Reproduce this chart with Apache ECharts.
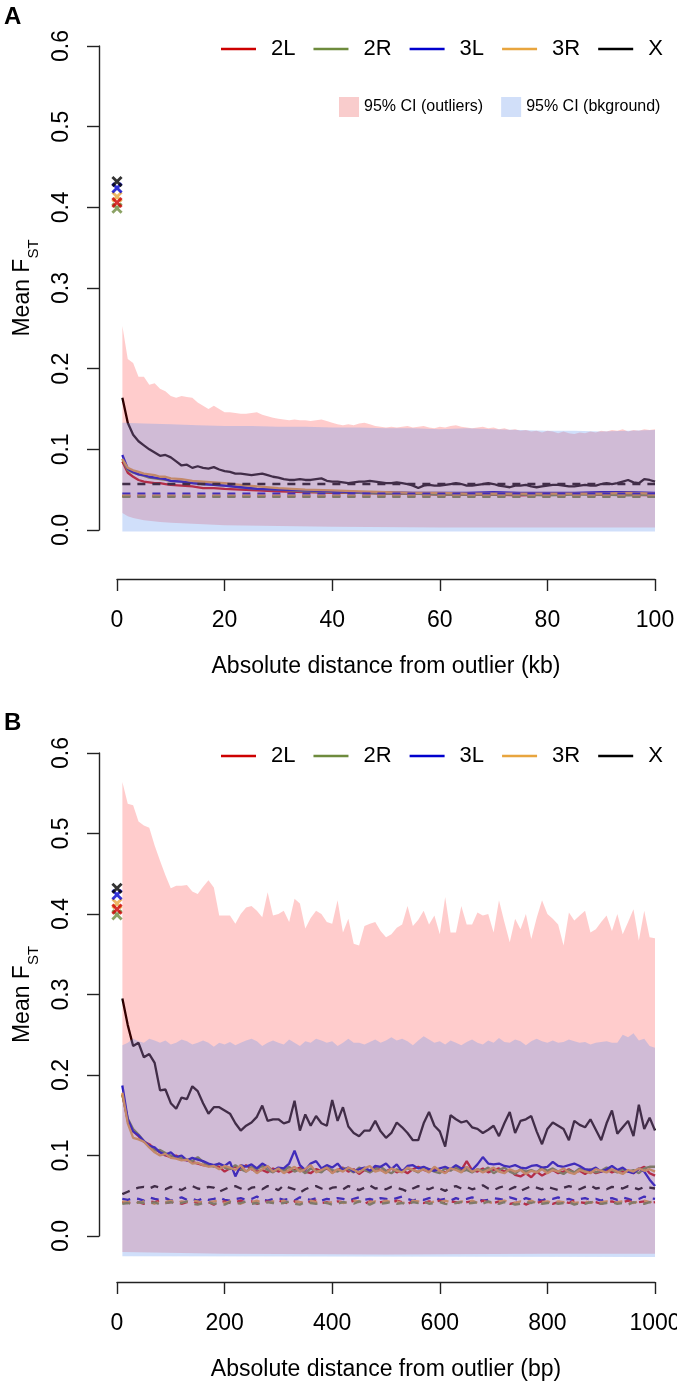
<!DOCTYPE html>
<html><head><meta charset="utf-8">
<script src="https://cdn.jsdelivr.net/npm/echarts/dist/echarts.min.js"></script>
<style>html,body{margin:0;padding:0;background:#fff}#c{width:677px;height:1381px}</style>
</head><body><div id="c"></div>
<script>
// ---------------- DATA ----------------
const chromosomes = ['2L', '2R', '3L', '3R', 'X'];
const colors = {'2L': '#cd0000', '2R': '#6e8b3d', '3L': '#0000cd', '3R': '#e8a53e', 'X': '#000000'};
const xTicksA = [0, 20, 40, 60, 80, 100];
const xTicksB = [0, 200, 400, 600, 800, 1000];
const yTicks = [0, 0.1, 0.2, 0.3, 0.4, 0.5, 0.6];

// outlier-site mean FST (crosses at distance 0)
const outlierFst = {'2L': 0.406, '2R': 0.399, '3L': 0.424, '3R': 0.413, 'X': 0.432};

// ---- Panel A (kb) ----
const kbX = Array.from({length: 100}, (_, i) => i + 1);
const aSampleX = [1,2,3,4,5,6,7,8,9,10,12,14,16,18,20,23,26,30,35,40,45,50,55,60,65,70,75,80,85,90,95,100];
const a2L = [.085,.071,.066,.062,.060,.059,.058,.058,.057,.056,.055,.054,.052,.052,.051,.050,.049,.048,.047,.046,.046,.045,.045,.044,.044,.044,.043,.044,.045,.044,.044,.043];
const a2R = [.088,.074,.071,.069,.067,.065,.064,.063,.062,.061,.060,.058,.057,.056,.055,.053,.051,.050,.048,.047,.046,.045,.045,.044,.044,.044,.044,.043,.044,.044,.043,.044];
const a3L = [.093,.076,.072,.069,.068,.066,.065,.064,.063,.061,.060,.058,.057,.056,.055,.053,.051,.050,.049,.048,.047,.047,.046,.046,.046,.047,.046,.046,.046,.047,.047,.046];
const a3R = [.088,.077,.074,.072,.070,.069,.068,.066,.066,.064,.063,.061,.060,.059,.058,.056,.054,.052,.050,.049,.048,.047,.046,.046,.045,.045,.045,.045,.045,.045,.046,.045];
const aX = [.164,.133,.118,.110,.105,.100,.096,.092,.093,.090,
 .085,.080,.081,.077,.079,.077,.076,.078,.075,.073,
 .072,.070,.070,.069,.068,.069,.070,.068,.066,.065,
 .063,.062,.062,.063,.062,.062,.063,.064,.061,.060,
 .060,.059,.058,.059,.060,.060,.061,.060,.059,.058,
 .058,.059,.058,.057,.055,.052,.055,.056,.055,.055,
 .056,.057,.058,.057,.055,.055,.056,.057,.058,.057,
 .055,.054,.053,.055,.055,.056,.054,.053,.054,.055,
 .056,.056,.055,.054,.054,.055,.056,.055,.055,.057,
 .058,.057,.058,.060,.062,.059,.058,.063,.062,.060];
const aBgX = [1, 100];
const aBg = {'2L': [.042,.042], '2R': [.041,.041], '3L': [.045,.045], '3R': [.0425,.0425], 'X': [.057,.057]};
const aCIoutUpper = [.253,.212,.207,.190,.190,.180,.182,.175,.172,.166,
 .164,.166,.165,.164,.158,.154,.150,.154,.150,.146,
 .146,.145,.144,.144,.145,.146,.143,.141,.139,.138,
 .137,.136,.137,.136,.136,.135,.136,.137,.135,.133,
 .131,.130,.131,.130,.132,.133,.131,.129,.128,.127,
 .128,.127,.128,.129,.127,.128,.129,.127,.126,.128,
 .127,.129,.130,.128,.127,.126,.127,.128,.126,.127,
 .125,.126,.124,.125,.123,.124,.122,.123,.121,.123,
 .122,.120,.122,.120,.119,.121,.120,.122,.121,.123,
 .122,.124,.123,.125,.122,.124,.123,.125,.124,.125];
const aCIoutLowerX = [1,2,3,5,8,10,15,20,30,40,60,100];
const aCIoutLower = [.021,.017,.015,.012,.010,.009,.0075,.006,.005,.004,.003,.003];
const aCIbgUpperX = [1,5,10,15,20,25,30,35,40,45,50,55,60,65,70,75,80,85,90,95,100];
const aCIbgUpper = [.133,.132,.131,.130,.129,.129,.128,.128,.127,.127,.126,.126,.125,.126,.125,.124,.123,.123,.122,.123,.124];
const aCIbgLowerX = [1, 100];
const aCIbgLower = [-.002, -.002];

// ---- Panel B (bp) ----
const bpX = Array.from({length: 100}, (_, i) => (i + 1) * 10);
const b2L = [.176,.143,.130,.124,.117,.114,.108,.104,.100,.098,
 .100,.095,.094,.092,.090,.088,.087,.088,.086,.080,
 .084,.086,.082,.088,.083,.080,.082,.079,.084,.080,
 .083,.079,.082,.085,.080,.078,.083,.081,.084,.079,
 .082,.085,.080,.083,.077,.082,.080,.085,.082,.080,
 .084,.079,.082,.078,.083,.086,.082,.080,.084,.081,
 .079,.083,.085,.082,.093,.082,.080,.084,.079,.082,
 .084,.080,.082,.076,.074,.078,.073,.080,.075,.079,
 .082,.078,.080,.083,.079,.081,.077,.082,.078,.080,
 .083,.079,.082,.080,.081,.078,.083,.086,.078,.075];
const b2R = [.175,.146,.133,.126,.118,.112,.106,.107,.103,.100,
 .098,.097,.095,.093,.098,.092,.088,.086,.090,.085,
 .083,.088,.083,.080,.086,.083,.087,.082,.079,.084,
 .081,.086,.080,.083,.078,.084,.081,.079,.085,.082,
 .080,.084,.083,.079,.085,.082,.079,.083,.086,.081,
 .078,.083,.080,.084,.082,.079,.085,.083,.080,.078,
 .084,.081,.086,.080,.082,.079,.083,.081,.085,.078,
 .082,.085,.080,.077,.083,.080,.082,.079,.085,.081,
 .084,.080,.077,.082,.079,.084,.080,.083,.079,.081,
 .085,.082,.079,.083,.080,.082,.078,.084,.086,.086];
const b3L = [.187,.145,.130,.125,.118,.112,.110,.104,.101,.104,
 .098,.100,.094,.097,.095,.093,.090,.088,.090,.087,
 .092,.074,.088,.086,.089,.084,.090,.086,.081,.085,
 .084,.090,.106,.088,.082,.090,.093,.084,.088,.085,
 .090,.082,.085,.080,.083,.085,.081,.087,.086,.090,
 .083,.089,.080,.087,.088,.084,.086,.083,.081,.084,
 .086,.083,.088,.084,.085,.082,.089,.098,.090,.089,
 .090,.087,.086,.088,.085,.084,.087,.088,.085,.086,
 .092,.087,.086,.088,.090,.087,.083,.082,.085,.080,
 .083,.087,.082,.085,.080,.078,.084,.080,.070,.062];
const b3R = [.178,.140,.122,.120,.117,.110,.104,.100,.102,.097,
 .096,.094,.095,.090,.091,.088,.086,.087,.083,.087,
 .085,.082,.088,.080,.084,.078,.083,.087,.080,.084,
 .078,.082,.086,.080,.083,.088,.079,.082,.085,.078,
 .083,.080,.085,.082,.079,.084,.087,.080,.082,.078,
 .084,.081,.079,.085,.082,.080,.083,.079,.086,.081,
 .078,.084,.082,.079,.086,.080,.083,.079,.082,.085,
 .080,.078,.083,.080,.082,.077,.081,.079,.083,.078,
 .082,.080,.084,.079,.077,.082,.080,.078,.083,.081,
 .079,.083,.080,.077,.082,.080,.084,.081,.083,.080];
const bX = [.295,.262,.236,.240,.222,.226,.215,.181,.182,.165,
 .158,.172,.170,.186,.180,.165,.152,.160,.160,.156,
 .152,.140,.131,.137,.141,.148,.162,.143,.145,.145,
 .140,.142,.168,.131,.151,.137,.149,.140,.137,.169,
 .143,.160,.136,.128,.124,.131,.131,.143,.130,.122,
 .128,.141,.135,.128,.119,.119,.140,.154,.137,.130,
 .111,.150,.145,.141,.143,.135,.133,.128,.132,.137,
 .124,.140,.154,.128,.143,.145,.149,.130,.114,.133,
 .141,.137,.133,.119,.143,.138,.135,.145,.132,.119,
 .140,.156,.127,.135,.143,.124,.163,.133,.147,.131];
const bBgX = [.052,.055,.058,.060,.061,.059,.062,.060,.058,.061,
 .060,.057,.061,.062,.059,.058,.061,.060,.055,.058,
 .061,.062,.059,.056,.060,.061,.058,.062,.060,.057,
 .063,.060,.058,.054,.058,.061,.062,.059,.057,.060,
 .061,.058,.062,.060,.057,.060,.063,.059,.060,.058,
 .061,.060,.058,.055,.059,.062,.060,.058,.061,.059,
 .056,.060,.062,.059,.061,.058,.060,.063,.059,.057,
 .060,.062,.058,.061,.056,.059,.062,.060,.058,.061,
 .059,.057,.060,.062,.060,.058,.061,.063,.059,.060,
 .058,.061,.060,.059,.062,.060,.058,.061,.060,.059];
const bBg3L = [.046,.045,.047,.046,.044,.048,.046,.045,.047,.044,
 .046,.048,.045,.046,.044,.047,.045,.046,.048,.045,
 .044,.046,.047,.045,.046,.049,.045,.044,.046,.047,
 .045,.046,.044,.048,.046,.045,.047,.044,.046,.045,
 .047,.046,.044,.046,.048,.045,.046,.044,.047,.046,
 .045,.047,.049,.046,.044,.046,.045,.047,.048,.045,
 .046,.044,.047,.045,.046,.048,.046,.044,.045,.047,
 .046,.045,.048,.046,.044,.047,.045,.046,.044,.047,
 .046,.048,.045,.046,.044,.046,.047,.045,.046,.044,
 .046,.047,.045,.048,.046,.044,.046,.049,.047,.046];
const bBg2L = [.042,.041,.043,.042,.040,.043,.042,.044,.041,.042,
 .043,.040,.042,.044,.041,.043,.042,.039,.042,.043,
 .041,.042,.044,.041,.043,.040,.042,.043,.041,.044,
 .042,.040,.043,.042,.041,.043,.044,.041,.042,.040,
 .043,.042,.041,.044,.042,.040,.043,.041,.042,.043,
 .041,.044,.042,.040,.043,.042,.041,.043,.042,.044,
 .041,.043,.042,.040,.042,.043,.041,.044,.042,.041,
 .043,.042,.040,.041,.043,.039,.042,.041,.043,.042,
 .040,.042,.043,.041,.044,.042,.041,.043,.042,.040,
 .042,.043,.041,.042,.044,.041,.042,.043,.041,.042];
const bBg2R = [.040,.041,.039,.042,.041,.040,.042,.039,.041,.042,
 .040,.041,.043,.040,.039,.041,.042,.040,.041,.039,
 .042,.040,.041,.043,.040,.041,.039,.042,.041,.040,
 .041,.043,.040,.039,.042,.041,.040,.042,.041,.039,
 .040,.042,.041,.040,.043,.041,.039,.042,.040,.041,
 .042,.040,.041,.039,.042,.041,.043,.040,.041,.042,
 .040,.039,.041,.042,.040,.041,.042,.040,.043,.041,
 .040,.042,.041,.039,.040,.042,.041,.043,.040,.041,
 .042,.040,.041,.042,.039,.041,.040,.042,.041,.040,
 .041,.042,.040,.041,.039,.042,.041,.040,.042,.041];
const bBg3R = [.043,.042,.044,.041,.043,.042,.040,.043,.042,.044,
 .041,.043,.042,.044,.043,.041,.042,.043,.044,.041,
 .043,.042,.040,.043,.042,.044,.041,.042,.043,.042,
 .044,.041,.043,.042,.041,.044,.042,.043,.041,.042,
 .043,.041,.042,.044,.043,.041,.042,.043,.041,.044,
 .042,.043,.041,.042,.044,.043,.042,.041,.043,.042,
 .044,.042,.041,.043,.042,.044,.041,.043,.042,.041,
 .043,.044,.042,.041,.043,.042,.044,.041,.042,.043,
 .041,.043,.042,.044,.041,.042,.043,.041,.044,.042,
 .043,.041,.042,.043,.042,.041,.043,.044,.042,.043];
const bCIoutUpper = [.564,.537,.535,.515,.510,.507,.485,.466,.448,.432,
 .435,.435,.436,.428,.425,.434,.442,.433,.398,.398,
 .398,.388,.400,.408,.410,.404,.396,.427,.398,.400,
 .404,.390,.419,.413,.382,.395,.404,.400,.390,.388,
 .417,.377,.394,.363,.361,.385,.388,.390,.379,.371,
 .375,.383,.387,.410,.385,.393,.404,.387,.398,.375,
 .421,.377,.377,.410,.387,.387,.402,.398,.400,.377,
 .417,.390,.365,.394,.381,.400,.369,.395,.417,.400,
 .394,.387,.361,.402,.392,.398,.404,.377,.381,.390,
 .398,.379,.400,.375,.390,.406,.367,.404,.371,.370];
const bCIoutLowerX = [10, 200, 500, 800, 1000];
const bCIoutLower = [-.020, -.022, -.023, -.022, -.022];
const bCIbgUpper = [.237,.240,.245,.242,.240,.245,.243,.240,.243,.238,
 .240,.244,.242,.238,.240,.243,.240,.235,.240,.238,
 .241,.237,.240,.243,.245,.242,.236,.240,.243,.240,
 .238,.244,.240,.236,.242,.240,.245,.243,.240,.242,
 .236,.240,.245,.240,.240,.238,.241,.244,.240,.243,
 .247,.243,.245,.242,.237,.243,.248,.244,.240,.242,
 .238,.243,.240,.237,.241,.244,.240,.238,.243,.240,
 .246,.241,.240,.244,.242,.237,.242,.245,.242,.240,
 .243,.240,.241,.244,.242,.240,.241,.238,.240,.241,
 .242,.240,.240,.250,.247,.252,.243,.245,.236,.234];
const bCIbgLowerX = [10, 1000];
const bCIbgLower = [-.025, -.026];

// ---------------- CHART ----------------
const FONT = 'Liberation Sans, Arial, Helvetica, sans-serif';
const chart = echarts.init(document.getElementById('c'), null, {renderer: 'canvas'});

const pinkFill = 'rgba(255,0,0,0.2)';
const blueFill = 'rgba(100,149,237,0.3)';

function bandSeries(name, gi, xu, up, xl, lo, fill) {
  return {
    type: 'custom', name, coordinateSystem: 'cartesian2d', xAxisIndex: gi, yAxisIndex: gi,
    silent: true, clip: false, data: [[xu[0], up[0]]], z: 3,
    itemStyle: {color: fill},
    renderItem: function (params, api) {
      const pts = [];
      for (let i = 0; i < xu.length; i++) pts.push(api.coord([xu[i], up[i]]));
      for (let i = xl.length - 1; i >= 0; i--) pts.push(api.coord([xl[i], lo[i]]));
      return {type: 'polygon', shape: {points: pts}, style: {fill: fill, stroke: null}};
    }
  };
}
function lineSeries(name, gi, xs, ys, color, dashed) {
  return {
    type: 'line', name, xAxisIndex: gi, yAxisIndex: gi, color: color,
    data: xs.map((x, i) => [x, ys[i]]), symbol: 'none', clip: false, silent: true,
    lineStyle: {color: color, width: 2.3, type: dashed ? [8, 7] : 'solid'},
    z: 2
  };
}
const crossPath = 'path://M3.9,0 H6.1 V3.9 H10 V6.1 H6.1 V10 H3.9 V6.1 H0 V3.9 H3.9 Z';
function crossSeries(gi) {
  const order = ['3R', '2R', '2L', '3L', 'X'];
  return {
    type: 'scatter', name: 'outliers', xAxisIndex: gi, yAxisIndex: gi, silent: true, clip: false,
    symbol: crossPath, symbolSize: 13, symbolRotate: 45,
    data: order.map(c => ({value: [0, outlierFst[c]], itemStyle: {color: colors[c]}})),
    z: 5
  };
}

const series = [];
// Panel A
const aSolid = {'2L': a2L, '2R': a2R, '3L': a3L, '3R': a3R};
chromosomes.forEach(c => {
  if (c === 'X') series.push(lineSeries('X', 0, kbX, aX, colors.X, false));
  else series.push(lineSeries(c, 0, aSampleX, aSolid[c], colors[c], false));
});
['X', '3L', '2L', '3R', '2R'].forEach(c => series.push(lineSeries(c + ' bkg', 0, aBgX, aBg[c], colors[c], true)));
series.push(bandSeries('95% CI (outliers)', 0, kbX, aCIoutUpper, aCIoutLowerX, aCIoutLower, pinkFill));
series.push(bandSeries('95% CI (bkground)', 0, aCIbgUpperX, aCIbgUpper, aCIbgLowerX, aCIbgLower, blueFill));
series.push(crossSeries(0));
// Panel B
const bSolid = {'2L': b2L, '2R': b2R, '3L': b3L, '3R': b3R, 'X': bX};
const bBg = {'2L': bBg2L, '2R': bBg2R, '3L': bBg3L, '3R': bBg3R, 'X': bBgX};
chromosomes.forEach(c => series.push(lineSeries(c, 1, bpX, bSolid[c], colors[c], false)));
['X', '3L', '2L', '3R', '2R'].forEach(c => series.push(lineSeries(c + ' bkg', 1, bpX, bBg[c], colors[c], true)));
series.push(bandSeries('95% CI (outliers)', 1, bpX, bCIoutUpper, bCIoutLowerX, bCIoutLower, pinkFill));
series.push(bandSeries('95% CI (bkground)', 1, bpX, bCIbgUpper, bCIbgLowerX, bCIbgLower, blueFill));
series.push(crossSeries(1));

function yAxisCfg(gi) {
  return {
    type: 'value', gridIndex: gi, min: 0, max: 0.6, interval: 0.1, offset: 18,
    axisLine: {show: true, onZero: false, lineStyle: {color: '#222', width: 1.4}},
    axisTick: {show: true, length: 12, inside: false, lineStyle: {color: '#222', width: 1.4}},
    axisLabel: {rotate: 90, margin: 26, fontSize: 23, color: '#000', fontFamily: FONT,
      formatter: v => v.toFixed(1), showMinLabel: true, showMaxLabel: true},
    splitLine: {show: false},
    name: '{a|Mean F}{b|ST}', nameLocation: 'middle', nameRotate: 90, nameGap: 58, nameMoveOverlap: false,
    nameTextStyle: {color: '#000', fontFamily: FONT,
      rich: {a: {fontSize: 23, fontFamily: FONT, color: '#000', lineHeight: 30, verticalAlign: 'top'},
             b: {fontSize: 15, fontFamily: FONT, color: '#000', lineHeight: 14, verticalAlign: 'bottom'}}}
  };
}
function xAxisCfg(gi, max, interval, offset, name) {
  return {
    type: 'value', gridIndex: gi, min: 0, max: max, interval: interval, offset: offset,
    axisLine: {show: true, onZero: false, lineStyle: {color: '#222', width: 1.4}},
    axisTick: {show: true, length: 12, inside: false, lineStyle: {color: '#222', width: 1.4}},
    axisLabel: {margin: 30, fontSize: 23, color: '#000', fontFamily: FONT, showMinLabel: true, showMaxLabel: true,
      formatter: v => String(v)},
    splitLine: {show: false},
    name: name, nameLocation: 'middle', nameGap: 76, nameMoveOverlap: false,
    nameTextStyle: {fontSize: 23, color: '#000', fontFamily: FONT}
  };
}
function chromLegend(top) {
  return {
    left: 221, top: top, width: 456, padding: 0, orient: 'horizontal', icon: 'rect',
    itemWidth: 35, itemHeight: 2.5, itemGap: 18,
    data: chromosomes, selectedMode: false,
    textStyle: {fontSize: 22, color: '#000', fontFamily: FONT, padding: [0, 0, 0, 10]}
  };
}

chart.setOption({
  animation: false,
  backgroundColor: '#fff',
  grid: [
    {left: 117, width: 538, top: 46, height: 484, containLabel: false, outerBoundsMode: 'none'},
    {left: 117, width: 538, top: 753, height: 483, containLabel: false, outerBoundsMode: 'none'}
  ],
  xAxis: [
    xAxisCfg(0, 100, 20, 49, 'Absolute distance from outlier (kb)'),
    xAxisCfg(1, 1000, 200, 46, 'Absolute distance from outlier (bp)')
  ],
  yAxis: [yAxisCfg(0), yAxisCfg(1)],
  legend: [
    chromLegend(38),
    chromLegend(745),
    {
      left: 339, top: 97, padding: 0, icon: 'rect', itemWidth: 20, itemHeight: 20, itemGap: 18, selectedMode: false,
      data: [
        {name: '95% CI (outliers)', itemStyle: {color: '#f9cccc'}},
        {name: '95% CI (bkground)', itemStyle: {color: '#d1dff9'}}
      ],
      textStyle: {fontSize: 16, color: '#000', fontFamily: FONT}
    }
  ],
  graphic: [
    {type: 'text', left: 4, top: 5, style: {text: 'A', fontSize: 24, fontWeight: 'bold', fill: '#000', fontFamily: FONT}},
    {type: 'text', left: 4, top: 711, style: {text: 'B', fontSize: 24, fontWeight: 'bold', fill: '#000', fontFamily: FONT}}
  ],
  series: series
});
</script></body></html>
